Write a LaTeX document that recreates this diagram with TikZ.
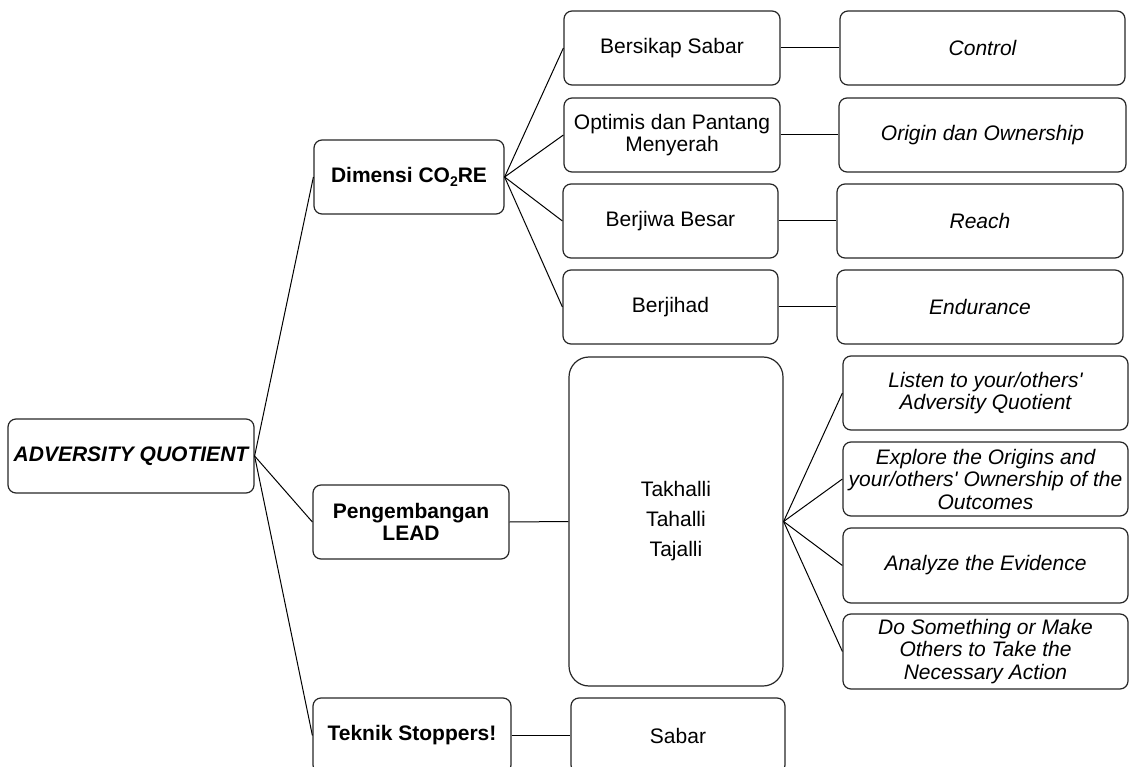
\documentclass[tikz,border=0pt]{standalone}
\usepackage{fontspec}
\setmainfont{Liberation Sans}[Ligatures=TeXOff]
\begin{document}
\begin{tikzpicture}[x=1pt,y=-1pt,
  box/.style={draw=black!85, line width=1.2pt, rounded corners=8pt, inner sep=0pt,
    align=center, font=\fontsize{21}{22.5}\selectfont, anchor=center},
  itbox/.style={box, font=\fontsize{21}{22.5}\selectfont\itshape},
  bdbox/.style={box, font=\fontsize{21}{22.5}\selectfont\bfseries},
  conn/.style={draw=black, line width=1pt}]
\useasboundingbox (0,0) rectangle (1130,767);
% level 0
\node[box, minimum width=246, minimum height=74, font=\fontsize{21}{21}\selectfont\bfseries\itshape] (aq) at (131,456) {ADVERSITY QUOTIENT};
% level 1
\node[bdbox, minimum width=190, minimum height=74] (dim) at (409,177) {Dimensi CO\raisebox{-0.35ex}{\fontsize{14}{14}\selectfont 2}RE};
\node[bdbox, minimum width=196, minimum height=74] (peng) at (411,522) {Pengembangan\\LEAD};
\node[bdbox, minimum width=198, minimum height=75] (tek) at (412,735.5) {Teknik Stoppers!};
% level 2
\node[box, minimum width=216, minimum height=74] (bs) at (672,48) {Bersikap Sabar};
\node[box, minimum width=216, minimum height=74] (op) at (672,135) {Optimis dan Pantang\\Menyerah};
\node[box, minimum width=215, minimum height=74] (bb) at (670.5,221) {Berjiwa Besar};
\node[box, minimum width=215, minimum height=74] (bj) at (670.5,307) {Berjihad};
\node[box, minimum width=214, minimum height=329, rounded corners=20pt, font=\fontsize{21}{30}\selectfont] (tk) at (676,521.5) {Takhalli\\Tahalli\\Tajalli};
\node[box, minimum width=214, minimum height=75] (sb) at (678,735.5) {Sabar};
% level 3
\node[itbox, minimum width=285, minimum height=74] (ct) at (982.5,48) {Control};
\node[itbox, minimum width=287, minimum height=74] (or) at (982.5,135) {Origin dan Ownership};
\node[itbox, minimum width=286, minimum height=74] (re) at (980,221) {Reach};
\node[itbox, minimum width=286, minimum height=74] (en) at (980,307) {Endurance};
\node[itbox, minimum width=285, minimum height=74] (li) at (985.5,393) {Listen to your/others'\\Adversity Quotient};
\node[itbox, minimum width=285, minimum height=74] (ex) at (985.5,479) {Explore the Origins and\\your/others' Ownership of the\\Outcomes};
\node[itbox, minimum width=285, minimum height=75] (an) at (985.5,565.5) {Analyze the Evidence};
\node[itbox, minimum width=285, minimum height=75] (do) at (985.5,651.5) {Do Something or Make\\Others to Take the\\Necessary Action};
% connectors
\draw[conn] (aq.east) -- (dim.west);
\draw[conn] (aq.east) -- (peng.west);
\draw[conn] (aq.east) -- (tek.west);
\draw[conn] (dim.east) -- (bs.west);
\draw[conn] (dim.east) -- (op.west);
\draw[conn] (dim.east) -- (bb.west);
\draw[conn] (dim.east) -- (bj.west);
\draw[conn] (bs.east) -- (ct.west);
\draw[conn] (op.east) -- (or.west);
\draw[conn] (bb.east) -- (re.west);
\draw[conn] (bj.east) -- (en.west);
\draw[conn] (peng.east) -- (tk.west);
\draw[conn] (tk.east) -- (li.west);
\draw[conn] (tk.east) -- (ex.west);
\draw[conn] (tk.east) -- (an.west);
\draw[conn] (tk.east) -- (do.west);
\draw[conn] (tek.east) -- (sb.west);
\end{tikzpicture}
\end{document}
